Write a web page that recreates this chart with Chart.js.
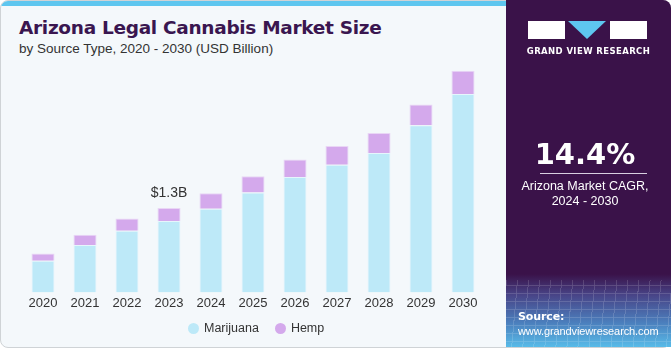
<!DOCTYPE html>
<html lang="en">
<head>
  <meta charset="UTF-8" />
  <title>Arizona Legal Cannabis Market Size</title>
  <script src="https://cdn.jsdelivr.net/npm/chart.js"></script>
  <style>
body {
  margin: 0;
  width: 671px;
  height: 350px;
  overflow: hidden;
  background: #ffffff;
  font-family: 'Liberation Sans', Arial, sans-serif;
}

.panel {
  position: absolute;
  left: 0;
  top: 0;
  width: 669px;
  height: 346px;
  background: #f4f8fb;
  border: 1px solid #cfd3d6;
  border-radius: 8px;
  overflow: hidden;
}

.strip {
  position: absolute;
  left: 0;
  top: 0;
  width: 506px;
  height: 5px;
  background: #5ec6ef;
}

.titulo {
  position: absolute;
  left: 18px;
  top: 16px;
  font-family: 'DejaVu Sans', sans-serif;
  font-weight: bold;
  font-size: 18.5px;
  letter-spacing: -0.3px;
  color: #3a1650;
}

.subtitulo {
  position: absolute;
  left: 18px;
  top: 40px;
  font-size: 13.5px;
  color: #333333;
}

.grafico {
  position: absolute;
  left: 0;
  top: 50px;
  width: 506px;
  height: 272px;
}

.leyenda {
  position: absolute;
  top: 320px;
  left: 187px;
  display: flex;
  gap: 16px;
  font-size: 12.5px;
  color: #333333;
}

.leyenda span { display: flex; align-items: center; gap: 5px; }
.leyenda i { display: inline-block; width: 11px; height: 11px; border-radius: 50%; }

/* Panel derecho */
.lateral {
  position: absolute;
  left: 506px;
  top: 0;
  width: 165px;
  height: 347px;
  background: linear-gradient(180deg, #3a1249 0%, #3a1249 79%, #484487 85%, #4b7fbd 93%, #58bbe8 100%);
  border-radius: 0 8px 0 0;
  overflow: hidden;
  color: #ffffff;
}

.malla {
  position: absolute;
  left: 0;
  top: 280px;
  width: 165px;
  height: 70px;
  opacity: 0.18;
  background:
    repeating-linear-gradient(95deg, rgba(255,255,255,0.8) 0 1px, transparent 1px 11px),
    repeating-linear-gradient(0deg, rgba(255,255,255,0.8) 0 1px, transparent 1px 8px);
}

.logo { position: absolute; top: 21px; left: 22px; width: 119px; height: 18px; }
.logo .b1 { position: absolute; left: 0; top: 0; width: 37px; height: 18px; background: #fff; }
.logo .b3 { position: absolute; left: 82px; top: 0; width: 37px; height: 18px; background: #fff; }
.logo .tri {
  position: absolute; left: 40px; top: 0; width: 0; height: 0;
  border-left: 19px solid transparent; border-right: 19px solid transparent;
  border-top: 18px solid #5ec6ef;
}

.marca {
  position: absolute; top: 46px; left: 0; width: 165px; text-align: center;
  font-family: 'DejaVu Sans', sans-serif; font-weight: bold; font-size: 8.5px; letter-spacing: 0.4px;
}

.cagr {
  position: absolute; top: 137px; left: 0; width: 158px; text-align: center;
  font-family: 'DejaVu Sans', sans-serif; font-weight: bold; font-size: 29px;
}

.linea { position: absolute; top: 173px; left: 34px; width: 107px; height: 1px; background: #d8cfe0; }

.cagr-txt {
  position: absolute; top: 179px; left: 0; width: 158px; text-align: center;
  font-size: 12.5px; line-height: 15px;
}

.fuente { position: absolute; top: 309px; left: 12px; font-size: 11px; line-height: 14px; letter-spacing: -0.1px; }
.fuente b { font-family: 'DejaVu Sans', sans-serif; font-size: 11px; }
  </style>
</head>
<body>
<div class="panel">
  <div class="strip"></div>
  <div class="titulo">Arizona Legal Cannabis Market Size</div>
  <div class="subtitulo">by Source Type, 2020 - 2030 (USD Billion)</div>
  <div class="grafico"><canvas id="graficoBarras"></canvas></div>
  <div class="leyenda">
    <span><i style="background:#bde9f8"></i>Marijuana</span>
    <span><i style="background:#d4a9ec"></i>Hemp</span>
  </div>
</div>

<div class="lateral">
  <div class="malla"></div>
  <div class="logo"><div class="b1"></div><div class="tri"></div><div class="b3"></div></div>
  <div class="marca">GRAND VIEW RESEARCH</div>
  <div class="cagr">14.4%</div>
  <div class="linea"></div>
  <div class="cagr-txt">Arizona Market CAGR,<br>2024 - 2030</div>
  <div class="fuente"><b>Source:</b><br>www.grandviewresearch.com</div>
</div>

<script>
const years = ['2020', '2021', '2022', '2023', '2024', '2025', '2026', '2027', '2028', '2029', '2030'];
const marijuana = [0.49, 0.73, 0.95, 1.10, 1.29, 1.54, 1.78, 1.97, 2.15, 2.58, 3.06];
const hemp = [0.11, 0.16, 0.19, 0.20, 0.24, 0.25, 0.27, 0.29, 0.31, 0.32, 0.36];
const labelIndex = 3;
const labelText = '$1.3B';

// Etiqueta de valor encima de la barra 2023
const etiquetaValor = {
  id: 'etiquetaValor',
  afterDatasetsDraw(chart) {
    const { ctx } = chart;
    const bar = chart.getDatasetMeta(1).data[labelIndex];
    ctx.save();
    ctx.font = '14px "Liberation Sans", Arial, sans-serif';
    ctx.fillStyle = '#333333';
    ctx.textAlign = 'center';
    ctx.textBaseline = 'middle';
    ctx.fillText(labelText, bar.x, bar.y - 15);
    ctx.restore();
  }
};

const ctx = document.getElementById('graficoBarras').getContext('2d');

new Chart(ctx, {
  type: 'bar',
  data: {
    labels: years,
    datasets: [
      {
        label: 'Marijuana',
        data: marijuana,
        backgroundColor: '#bde9f8',
        borderColor: '#e6f6fc',
        borderWidth: 1,
        barPercentage: 0.55,
        categoryPercentage: 1
      },
      {
        label: 'Hemp',
        data: hemp,
        backgroundColor: '#d4a9ec',
        borderColor: '#e9d6f5',
        borderWidth: 1,
        barPercentage: 0.55,
        categoryPercentage: 1
      }
    ]
  },
  options: {
    responsive: true,
    maintainAspectRatio: false,
    animation: false,
    layout: { padding: { left: 21, right: 23, top: 8, bottom: 9 } },
    plugins: {
      legend: { display: false },
      tooltip: { enabled: false }
    },
    scales: {
      x: {
        stacked: true,
        grid: { display: false, drawTicks: false },
        border: { display: false },
        ticks: {
          color: '#333333',
          padding: 3,
          font: { family: "'Liberation Sans', Arial, sans-serif", size: 13 }
        }
      },
      y: {
        stacked: true,
        display: false,
        min: 0,
        max: 3.6
      }
    }
  },
  plugins: [etiquetaValor]
});
</script>
</body>
</html>
